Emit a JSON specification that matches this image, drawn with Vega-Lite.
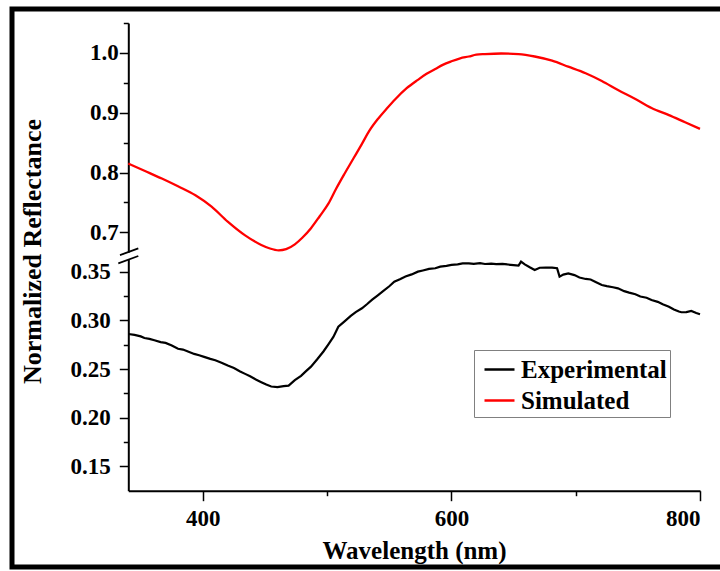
{
  "$schema": "https://vega.github.io/schema/vega-lite/v6.json",
  "width": 714,
  "height": 558,
  "autosize": {"type": "none"},
  "padding": {"left": 12, "top": 9, "right": 0, "bottom": 4},
  "background": "white",
  "view": {"stroke": "black", "strokeWidth": 5, "fill": "white"},
  "config": {
    "font": "Liberation Serif",
    "axis": {
      "labelFont": "Liberation Serif", "labelFontWeight": "bold", "labelFontSize": 23, "labelColor": "black",
      "titleFont": "Liberation Serif", "titleFontWeight": "bold", "titleFontSize": 25, "titleColor": "black",
      "domainColor": "black", "domainWidth": 2, "tickColor": "black", "tickWidth": 1.5, "grid": false, "zindex": 0
    }
  },
  "datasets": {
    "sim": [
      {"s": "Simulated", "wl": 340, "r": 0.815}, {"s": "Simulated", "wl": 353, "r": 0.803}, {"s": "Simulated", "wl": 367, "r": 0.790},
      {"s": "Simulated", "wl": 380, "r": 0.777}, {"s": "Simulated", "wl": 394, "r": 0.762}, {"s": "Simulated", "wl": 407, "r": 0.743},
      {"s": "Simulated", "wl": 420, "r": 0.718}, {"s": "Simulated", "wl": 434, "r": 0.695}, {"s": "Simulated", "wl": 447, "r": 0.679},
      {"s": "Simulated", "wl": 454, "r": 0.673}, {"s": "Simulated", "wl": 461, "r": 0.670}, {"s": "Simulated", "wl": 467, "r": 0.672},
      {"s": "Simulated", "wl": 474, "r": 0.680}, {"s": "Simulated", "wl": 480, "r": 0.691}, {"s": "Simulated", "wl": 487, "r": 0.707},
      {"s": "Simulated", "wl": 494, "r": 0.727}, {"s": "Simulated", "wl": 501, "r": 0.748}, {"s": "Simulated", "wl": 507, "r": 0.772},
      {"s": "Simulated", "wl": 514, "r": 0.798}, {"s": "Simulated", "wl": 521, "r": 0.823}, {"s": "Simulated", "wl": 528, "r": 0.848},
      {"s": "Simulated", "wl": 534, "r": 0.870}, {"s": "Simulated", "wl": 541, "r": 0.890}, {"s": "Simulated", "wl": 548, "r": 0.907},
      {"s": "Simulated", "wl": 555, "r": 0.923}, {"s": "Simulated", "wl": 564, "r": 0.941}, {"s": "Simulated", "wl": 573, "r": 0.955},
      {"s": "Simulated", "wl": 580, "r": 0.965}, {"s": "Simulated", "wl": 587, "r": 0.973}, {"s": "Simulated", "wl": 593, "r": 0.980},
      {"s": "Simulated", "wl": 600, "r": 0.986}, {"s": "Simulated", "wl": 607, "r": 0.991}, {"s": "Simulated", "wl": 614, "r": 0.994},
      {"s": "Simulated", "wl": 620, "r": 0.997}, {"s": "Simulated", "wl": 627, "r": 0.998}, {"s": "Simulated", "wl": 640, "r": 0.999},
      {"s": "Simulated", "wl": 654, "r": 0.998}, {"s": "Simulated", "wl": 667, "r": 0.994}, {"s": "Simulated", "wl": 681, "r": 0.987},
      {"s": "Simulated", "wl": 694, "r": 0.977}, {"s": "Simulated", "wl": 708, "r": 0.966}, {"s": "Simulated", "wl": 721, "r": 0.953},
      {"s": "Simulated", "wl": 734, "r": 0.938}, {"s": "Simulated", "wl": 748, "r": 0.923}, {"s": "Simulated", "wl": 761, "r": 0.908},
      {"s": "Simulated", "wl": 775, "r": 0.896}, {"s": "Simulated", "wl": 788, "r": 0.884}, {"s": "Simulated", "wl": 800, "r": 0.873}
    ],
    "exp": [
      {"s": "Experimental", "wl": 340, "r": 0.2860}, {"s": "Experimental", "wl": 345, "r": 0.2850}, {"s": "Experimental", "wl": 350, "r": 0.2835},
      {"s": "Experimental", "wl": 353, "r": 0.2818}, {"s": "Experimental", "wl": 357, "r": 0.2810}, {"s": "Experimental", "wl": 361, "r": 0.2795},
      {"s": "Experimental", "wl": 366, "r": 0.2776}, {"s": "Experimental", "wl": 370, "r": 0.2768}, {"s": "Experimental", "wl": 375, "r": 0.2742},
      {"s": "Experimental", "wl": 380, "r": 0.2708}, {"s": "Experimental", "wl": 384, "r": 0.2700}, {"s": "Experimental", "wl": 388, "r": 0.2680},
      {"s": "Experimental", "wl": 393, "r": 0.2655}, {"s": "Experimental", "wl": 397, "r": 0.2642}, {"s": "Experimental", "wl": 401, "r": 0.2625},
      {"s": "Experimental", "wl": 406, "r": 0.2604}, {"s": "Experimental", "wl": 410, "r": 0.2590}, {"s": "Experimental", "wl": 415, "r": 0.2565},
      {"s": "Experimental", "wl": 420, "r": 0.2535}, {"s": "Experimental", "wl": 425, "r": 0.2510}, {"s": "Experimental", "wl": 430, "r": 0.2475},
      {"s": "Experimental", "wl": 434, "r": 0.2450}, {"s": "Experimental", "wl": 438, "r": 0.2425}, {"s": "Experimental", "wl": 443, "r": 0.2390},
      {"s": "Experimental", "wl": 447, "r": 0.2365}, {"s": "Experimental", "wl": 451, "r": 0.2340}, {"s": "Experimental", "wl": 455, "r": 0.2320},
      {"s": "Experimental", "wl": 460, "r": 0.2315}, {"s": "Experimental", "wl": 465, "r": 0.2325}, {"s": "Experimental", "wl": 469, "r": 0.2330},
      {"s": "Experimental", "wl": 474, "r": 0.2385}, {"s": "Experimental", "wl": 479, "r": 0.2430}, {"s": "Experimental", "wl": 483, "r": 0.2478},
      {"s": "Experimental", "wl": 487, "r": 0.2524}, {"s": "Experimental", "wl": 492, "r": 0.2600}, {"s": "Experimental", "wl": 497, "r": 0.2680},
      {"s": "Experimental", "wl": 501, "r": 0.2754}, {"s": "Experimental", "wl": 505, "r": 0.2830}, {"s": "Experimental", "wl": 509, "r": 0.2935},
      {"s": "Experimental", "wl": 514, "r": 0.2990}, {"s": "Experimental", "wl": 519, "r": 0.3045}, {"s": "Experimental", "wl": 523, "r": 0.3085},
      {"s": "Experimental", "wl": 528, "r": 0.3124}, {"s": "Experimental", "wl": 532, "r": 0.3165}, {"s": "Experimental", "wl": 536, "r": 0.3210},
      {"s": "Experimental", "wl": 541, "r": 0.3260}, {"s": "Experimental", "wl": 545, "r": 0.3300}, {"s": "Experimental", "wl": 550, "r": 0.3350},
      {"s": "Experimental", "wl": 554, "r": 0.3397}, {"s": "Experimental", "wl": 559, "r": 0.3425}, {"s": "Experimental", "wl": 563, "r": 0.3450},
      {"s": "Experimental", "wl": 568, "r": 0.3472}, {"s": "Experimental", "wl": 573, "r": 0.3500}, {"s": "Experimental", "wl": 577, "r": 0.3512},
      {"s": "Experimental", "wl": 582, "r": 0.3528}, {"s": "Experimental", "wl": 587, "r": 0.3535}, {"s": "Experimental", "wl": 591, "r": 0.3552},
      {"s": "Experimental", "wl": 596, "r": 0.3560}, {"s": "Experimental", "wl": 600, "r": 0.3569}, {"s": "Experimental", "wl": 605, "r": 0.3575},
      {"s": "Experimental", "wl": 609, "r": 0.3585}, {"s": "Experimental", "wl": 614, "r": 0.3586}, {"s": "Experimental", "wl": 618, "r": 0.3580},
      {"s": "Experimental", "wl": 623, "r": 0.3587}, {"s": "Experimental", "wl": 627, "r": 0.3579}, {"s": "Experimental", "wl": 632, "r": 0.3582},
      {"s": "Experimental", "wl": 636, "r": 0.3577}, {"s": "Experimental", "wl": 641, "r": 0.3580}, {"s": "Experimental", "wl": 645, "r": 0.3574},
      {"s": "Experimental", "wl": 650, "r": 0.3568}, {"s": "Experimental", "wl": 654, "r": 0.3562}, {"s": "Experimental", "wl": 656, "r": 0.3603},
      {"s": "Experimental", "wl": 659, "r": 0.3575}, {"s": "Experimental", "wl": 663, "r": 0.3545}, {"s": "Experimental", "wl": 667, "r": 0.3517},
      {"s": "Experimental", "wl": 671, "r": 0.3540}, {"s": "Experimental", "wl": 676, "r": 0.3541}, {"s": "Experimental", "wl": 681, "r": 0.3541},
      {"s": "Experimental", "wl": 685, "r": 0.3535}, {"s": "Experimental", "wl": 687, "r": 0.3449}, {"s": "Experimental", "wl": 690, "r": 0.3470},
      {"s": "Experimental", "wl": 694, "r": 0.3483}, {"s": "Experimental", "wl": 699, "r": 0.3465}, {"s": "Experimental", "wl": 703, "r": 0.3440},
      {"s": "Experimental", "wl": 708, "r": 0.3425}, {"s": "Experimental", "wl": 712, "r": 0.3420}, {"s": "Experimental", "wl": 716, "r": 0.3395},
      {"s": "Experimental", "wl": 721, "r": 0.3363}, {"s": "Experimental", "wl": 725, "r": 0.3352}, {"s": "Experimental", "wl": 730, "r": 0.3340},
      {"s": "Experimental", "wl": 734, "r": 0.3329}, {"s": "Experimental", "wl": 739, "r": 0.3300}, {"s": "Experimental", "wl": 743, "r": 0.3285},
      {"s": "Experimental", "wl": 748, "r": 0.3268}, {"s": "Experimental", "wl": 752, "r": 0.3245}, {"s": "Experimental", "wl": 757, "r": 0.3232},
      {"s": "Experimental", "wl": 761, "r": 0.3209}, {"s": "Experimental", "wl": 766, "r": 0.3190}, {"s": "Experimental", "wl": 770, "r": 0.3165},
      {"s": "Experimental", "wl": 775, "r": 0.3140}, {"s": "Experimental", "wl": 779, "r": 0.3112}, {"s": "Experimental", "wl": 783, "r": 0.3090},
      {"s": "Experimental", "wl": 785, "r": 0.3083}, {"s": "Experimental", "wl": 789, "r": 0.3085}, {"s": "Experimental", "wl": 793, "r": 0.3096},
      {"s": "Experimental", "wl": 797, "r": 0.3075}, {"s": "Experimental", "wl": 800, "r": 0.3062}
    ],
    "lowerSlash": [{"wl": 331.95, "r": 0.3586, "wl2": 348.05, "r2": 0.3661}],
    "upperSlash": [{"wl": 333.3, "r": 0.6621, "wl2": 348.05, "r2": 0.6733}]
  },
  "layer": [
    {
      "layer": [
        {
          "data": {"name": "exp"},
          "mark": {"type": "line", "strokeWidth": 2.2},
          "encoding": {
            "x": {
              "field": "wl", "type": "quantitative",
              "scale": {"domain": [340, 800], "range": [116.3, 688], "nice": false, "zero": false},
              "axis": {
                "values": [400, 500, 600, 700, 800],
                "labelExpr": "datum.value % 200 == 0 ? datum.label : ''",
                "tickSize": {"condition": {"test": "datum.value % 200 == 0", "value": 10}, "value": 5},
                "labelPadding": 7,
                "offset": -76.3,
                "title": "Wavelength (nm)",
                "titleX": 402, "titleY": 67.6, "titleBaseline": "alphabetic", "titleAlign": "center", "titleAngle": 0
              }
            },
            "y": {
              "field": "r", "type": "quantitative",
              "scale": {"domain": [0.125, 0.3625], "range": [481.7, 250.5], "nice": false, "zero": false},
              "axis": {
                "orient": "left",
                "values": [0.15, 0.175, 0.2, 0.225, 0.25, 0.275, 0.3, 0.325, 0.35],
                "labelExpr": "round(datum.value*40) % 2 == 0 ? format(datum.value, '.2f') : ''",
                "tickSize": {"condition": {"test": "round(datum.value*40) % 2 == 0", "value": 9}, "value": 5},
                "labelPadding": 9,
                "offset": -116.3,
                "title": "Normalized Reflectance",
                "titleFontSize": 26,
                "titleX": -96.3, "titleY": 242, "titleAngle": 270, "titleBaseline": "middle", "titleAlign": "center"
              }
            },
            "color": {
              "field": "s", "type": "nominal",
              "scale": {"domain": ["Experimental", "Simulated"], "range": ["#000000", "#ff0000"]},
              "legend": {
                "orient": "none", "legendX": 462, "legendY": 341, "title": null,
                "strokeColor": "#808080", "fillColor": "white", "padding": 3,
                "symbolType": "stroke", "symbolSize": 900, "symbolStrokeWidth": 2.5, "symbolOffset": 6,
                "labelFont": "Liberation Serif", "labelFontWeight": "bold", "labelFontSize": 25, "labelColor": "black",
                "labelOffset": 5, "rowPadding": 1
              }
            }
          }
        },
        {
          "data": {"name": "lowerSlash"},
          "mark": {"type": "rule", "color": "black", "strokeWidth": 1.8},
          "encoding": {
            "x": {"field": "wl", "type": "quantitative", "scale": {"domain": [340, 800], "range": [116.3, 688], "nice": false, "zero": false}},
            "y": {"field": "r", "type": "quantitative", "scale": {"domain": [0.125, 0.3625], "range": [481.7, 250.5], "nice": false, "zero": false}},
            "x2": {"field": "wl2"},
            "y2": {"field": "r2"}
          }
        }
      ]
    },
    {
      "layer": [
        {
          "data": {"name": "sim"},
          "mark": {"type": "line", "strokeWidth": 2.3, "interpolate": "monotone"},
          "encoding": {
            "x": {"field": "wl", "type": "quantitative", "scale": {"domain": [340, 800], "range": [116.3, 688], "nice": false, "zero": false}},
            "y": {
              "field": "r", "type": "quantitative",
              "scale": {"domain": [0.667, 1.05], "range": [243.1, 14], "nice": false, "zero": false},
              "axis": {
                "orient": "left",
                "values": [0.7, 0.75, 0.8, 0.85, 0.9, 0.95, 1.0, 1.05],
                "labelExpr": "round(datum.value*20) % 2 == 0 ? format(datum.value, '.1f') : ''",
                "tickSize": {"condition": {"test": "round(datum.value*20) % 2 == 0", "value": 9}, "value": 5},
                "labelPadding": 1,
                "offset": -116.3,
                "title": null
              }
            },
            "color": {"field": "s", "type": "nominal", "scale": {"domain": ["Experimental", "Simulated"], "range": ["#000000", "#ff0000"]}}
          }
        },
        {
          "data": {"name": "upperSlash"},
          "mark": {"type": "rule", "color": "black", "strokeWidth": 1.8},
          "encoding": {
            "x": {"field": "wl", "type": "quantitative", "scale": {"domain": [340, 800], "range": [116.3, 688], "nice": false, "zero": false}},
            "y": {"field": "r", "type": "quantitative", "scale": {"domain": [0.667, 1.05], "range": [243.1, 14], "nice": false, "zero": false}},
            "x2": {"field": "wl2"},
            "y2": {"field": "r2"}
          }
        }
      ]
    }
  ],
  "resolve": {"scale": {"y": "independent"}, "axis": {"y": "independent"}}
}
